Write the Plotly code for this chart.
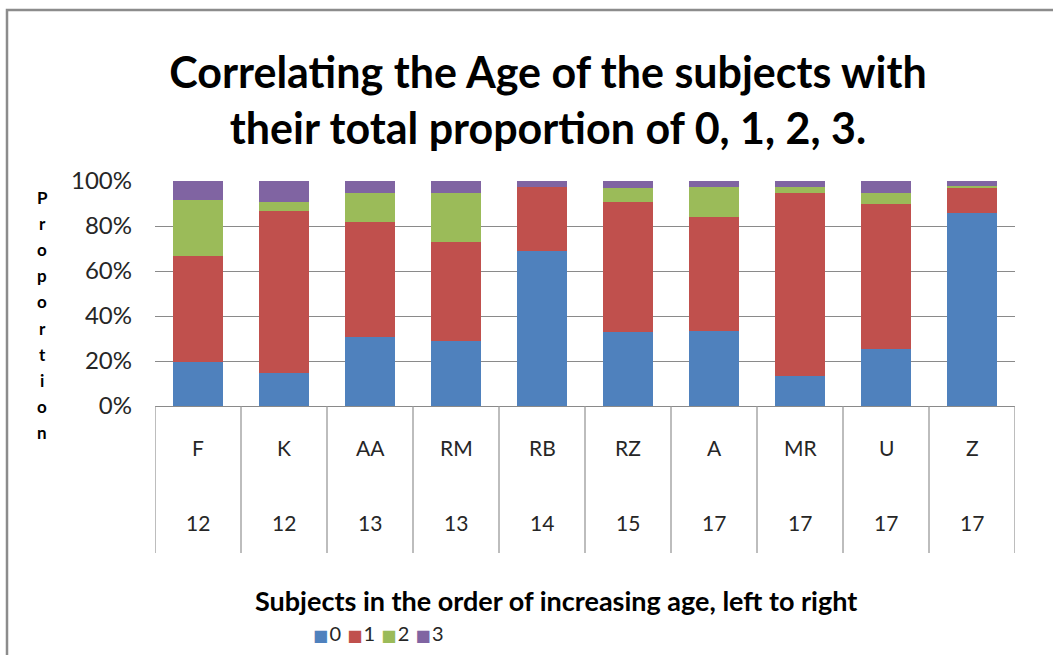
import plotly.graph_objects as go

subjects = ["F", "K", "AA", "RM", "RB", "RZ", "A", "MR", "U", "Z"]
ages = ["12", "12", "13", "13", "14", "15", "17", "17", "17", "17"]
p0 = [19.6, 14.5, 30.5, 28.7, 68.9, 32.8, 33.3, 13.3, 25.2, 86.0]
p1 = [46.9, 72.1, 51.5, 44.2, 28.6, 57.8, 50.5, 81.3, 64.8, 10.9]
p2 = [25.2, 4.0, 12.6, 21.7, 0.0, 6.3, 13.7, 2.9, 4.6, 0.9]
p3 = [8.3, 9.4, 5.4, 5.4, 2.5, 3.1, 2.5, 2.5, 5.4, 2.2]
series_names = ["0", "1", "2", "3"]
colors = ["#4F81BD", "#C0504D", "#9BBB59", "#8064A2"]
y_ticks = [0, 20, 40, 60, 80, 100]
y_ticktext = ["0%", "20%", "40%", "60%", "80%", "100%"]
title_text = "Correlating the Age of the subjects with<br>their total proportion of 0, 1, 2, 3."
x_title = "Subjects in the order of increasing age, left to right"
y_title = "Proportion"

W, H = 1053, 655
L, R, T, B = 155, 38, 181, 249
pw, ph = W - L - R, H - T - B

def px_y(py):
    return (H - B - py) / ph

def px_x(px):
    return (px - L) / pw

FONT = "Lato, Open Sans, sans-serif"

fig = go.Figure()
idx = list(range(len(subjects)))
for name, vals, c in zip(series_names, [p0, p1, p2, p3], colors):
    fig.add_trace(go.Bar(x=idx, y=vals, name=name, marker=dict(color=c, line=dict(width=0)),
                         showlegend=False))

shapes = []
# category box dividers
for i in range(len(subjects) + 1):
    shapes.append(dict(type="line", xref="x", yref="paper", x0=i - 0.5, x1=i - 0.5,
                       y0=0, y1=px_y(553), line=dict(color="#9A9A9A", width=1.3)))
# chart border
shapes.append(dict(type="rect", xref="paper", yref="paper", x0=px_x(7), x1=px_x(1065),
                   y0=px_y(665), y1=px_y(10), line=dict(color="#8C8C8C", width=2.5)))

annotations = []
for i, (s, a) in enumerate(zip(subjects, ages)):
    annotations.append(dict(x=i, y=px_y(447), xref="x", yref="paper", text=s, showarrow=False,
                            font=dict(family=FONT, size=21, color="#262626"), yanchor="middle"))
    annotations.append(dict(x=i, y=px_y(522), xref="x", yref="paper", text=a, showarrow=False,
                            font=dict(family=FONT, size=21, color="#262626"), yanchor="middle"))
annotations.append(dict(x=px_x(556), y=px_y(600), xref="paper", yref="paper", text="<b>" + x_title + "</b>",
                        showarrow=False, font=dict(family=FONT, size=27, color="#000"),
                        xanchor="center", yanchor="middle"))
for k, ch in enumerate(y_title):
    annotations.append(dict(x=px_x(42), y=px_y(197 + k * 26.2), xref="paper", yref="paper",
                            text="<b>" + ch + "</b>", showarrow=False,
                            font=dict(family=FONT, size=17, color="#000"), xanchor="center", yanchor="middle"))
# legend (series names with colour keys)
legend_html = "<span style='font-size:12px'>&nbsp;&nbsp;</span>".join(
    f"<span style='color:{c};font-family:DejaVu Sans;font-size:16px'>■</span>"
    f"<span style='font-size:5px'>&nbsp;</span>{n}"
    for n, c in zip(series_names, colors))
annotations.append(dict(x=px_x(378), y=px_y(633), xref="paper", yref="paper", text=legend_html,
                        showarrow=False, font=dict(family=FONT, size=20, color="#262626"),
                        xanchor="center", yanchor="middle"))

fig.update_layout(
    width=W, height=H,
    margin=dict(l=L, r=R, t=T, b=B),
    barmode="stack", bargap=0.42,
    plot_bgcolor="white", paper_bgcolor="white",
    title=dict(text="<b>" + title_text + "</b>", x=548 / W, xanchor="center", y=1 - 88 / H, yanchor="top",
               font=dict(family=FONT, size=43, color="#000")),
    xaxis=dict(range=[-0.5, len(subjects) - 0.5], showticklabels=False, showgrid=False,
               zeroline=False, showline=False, ticks=""),
    yaxis=dict(range=[0, 100], tickvals=y_ticks, ticktext=y_ticktext, showgrid=True,
               gridcolor="#8A8A8A", gridwidth=1.3, zeroline=True, zerolinecolor="#8A8A8A", zerolinewidth=1.3,
               showline=False, ticks="", ticklabelstandoff=22,
               tickfont=dict(family=FONT, size=24, color="#262626")),
    showlegend=False,
    shapes=shapes, annotations=annotations,
)
fig.write_html("out.html", config={"displayModeBar": False},
               post_script="document.body.style.margin='0';")
